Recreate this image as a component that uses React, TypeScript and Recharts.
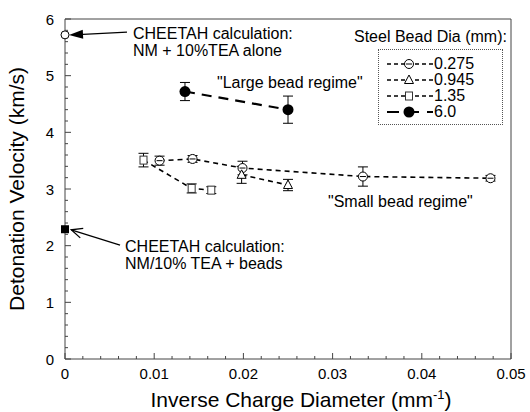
import React from 'react';
import { ComposedChart, Scatter, XAxis, YAxis, ErrorBar, ReferenceLine, ReferenceDot } from 'recharts';

const FONT = '"Liberation Sans", Arial, Helvetica, sans-serif';
const AXIS = '#444';

// ---- data (inverse charge diameter [1/mm], detonation velocity [km/s], error) ----
const bead0275 = [
  { x: 0.0106, y: 3.5, err: 0.08 },
  { x: 0.0143, y: 3.53, err: 0.06 },
  { x: 0.0199, y: 3.37, err: 0.12 },
  { x: 0.0334, y: 3.22, err: 0.17 },
  { x: 0.0477, y: 3.19, err: 0.05 },
];
const bead0945 = [
  { x: 0.0198, y: 3.25, err: 0.15 },
  { x: 0.025, y: 3.07, err: 0.1 },
];
const bead135 = [
  { x: 0.0088, y: 3.51, err: 0.12 },
  { x: 0.0142, y: 3.01, err: 0.08 },
  { x: 0.0164, y: 2.98, err: 0.06 },
];
const bead60 = [
  { x: 0.01345, y: 4.72, err: 0.16 },
  { x: 0.025, y: 4.4, err: 0.24 },
];
const cheetahAlone = [{ x: 0, y: 5.72 }];
const cheetahBeads = [{ x: 0, y: 2.29 }];

const legendLabels = ['0.275', '0.945', '1.35', '6.0'];
const legendTitle = 'Steel Bead Dia (mm):';

const xMajor = [0, 0.01, 0.02, 0.03, 0.04, 0.05];
const yMajor = [0, 1, 2, 3, 4, 5, 6];
const xTicks: number[] = [];
for (let i = 0; i <= 25; i++) xTicks.push(Math.round(i * 2) / 1000);
const yTicks: number[] = [];
for (let i = 0; i <= 30; i++) yTicks.push(Math.round(i * 2) / 10);

const isMajor = (v: number, list: number[]) => list.some((m) => Math.abs(m - v) < 1e-9);
const fmtX = (v: number) => (v === 0 ? '0' : v.toFixed(2));

// ---- markers ----
const CircleBar = (cx: number, cy: number) => (
  <g>
    <circle cx={cx} cy={cy} r={4.5} fill="#fff" stroke="#000" strokeWidth={1} />
    <line x1={cx - 3} x2={cx + 3} y1={cy} y2={cy} stroke="#000" strokeWidth={1} />
  </g>
);
const Tri = (cx: number, cy: number) => (
  <polygon points={`${cx},${cy - 5} ${cx + 4.5},${cy + 3.5} ${cx - 4.5},${cy + 3.5}`} fill="#fff" stroke="#000" strokeWidth={1} />
);
const Sq = (cx: number, cy: number) => (
  <rect x={cx - 3.5} y={cy - 4} width={7} height={8} fill="#fff" stroke="#333" strokeWidth={1} />
);
const Dot = (cx: number, cy: number) => <circle cx={cx} cy={cy} r={5.5} fill="#000" />;

const series = [
  { data: bead0275, marker: CircleBar, dash: '5 4', width: 1.6 },
  { data: bead0945, marker: Tri, dash: '5 4', width: 1.6 },
  { data: bead135, marker: Sq, dash: '5 4', width: 1.6 },
  { data: bead60, marker: Dot, dash: '10 7', width: 2.2 },
];

// ---- ticks ----
const BottomTick = (p: any) => {
  const { x, y, payload } = p;
  const major = isMajor(payload.value, xMajor);
  return (
    <g>
      <line x1={x} x2={x} y1={y} y2={y - (major ? 6 : 3)} stroke={AXIS} />
      {major && (
        <text x={x} y={y + 20} textAnchor="middle" fontSize={15} fontFamily={FONT} fill="#000">
          {fmtX(payload.value)}
        </text>
      )}
    </g>
  );
};
const TopTick = (p: any) => {
  const { x, y, payload } = p;
  const major = isMajor(payload.value, xMajor);
  return <line x1={x} x2={x} y1={y} y2={y + (major ? 6 : 3)} stroke={AXIS} />;
};
const LeftTick = (p: any) => {
  const { x, y, payload } = p;
  const major = isMajor(payload.value, yMajor);
  return (
    <g>
      <line x1={x} x2={x + (major ? 6 : 3)} y1={y} y2={y} stroke={AXIS} />
      {major && (
        <text x={x - 11} y={y + 5.5} textAnchor="end" fontSize={15} fontFamily={FONT} fill="#000">
          {String(payload.value)}
        </text>
      )}
    </g>
  );
};
const RightTick = (p: any) => {
  const { x, y, payload } = p;
  const major = isMajor(payload.value, yMajor);
  return <line x1={x} x2={x - (major ? 6 : 3)} y1={y} y2={y} stroke={AXIS} />;
};

// ---- annotation helpers ----
const textShape = (lines: string[]) => (p: any) => (
  <text x={p.cx} y={p.cy} fontSize={16} fontFamily={FONT} fill="#000">
    {lines.map((l, i) => (
      <tspan key={i} x={p.cx} dy={i === 0 ? '0.36em' : 17.5}>
        {l}
      </tspan>
    ))}
  </text>
);
const arrowShape = (filled: boolean) => (p: any) => {
  const { x1, y1, x2, y2 } = p;
  const a = Math.atan2(y2 - y1, x2 - x1);
  const L = filled ? 14 : 11;
  const W = filled ? 4.5 : 5;
  const bx = x2 - L * Math.cos(a);
  const by = y2 - L * Math.sin(a);
  const px = -Math.sin(a) * W;
  const py = Math.cos(a) * W;
  return (
    <g>
      <line x1={x1} y1={y1} x2={filled ? bx : x2} y2={filled ? by : y2} stroke="#000" strokeWidth={1.3} />
      {filled ? (
        <polygon points={`${x2},${y2} ${bx + px},${by + py} ${bx - px},${by - py}`} fill="#000" />
      ) : (
        <polyline points={`${bx + px},${by + py} ${x2},${y2} ${bx - px},${by - py}`} fill="none" stroke="#000" strokeWidth={1.3} />
      )}
    </g>
  );
};

export default function App() {
  return (
    <div style={{ position: 'absolute', left: 0, top: 0, width: 530, height: 412, background: '#fff', fontFamily: FONT }}>
      <ComposedChart width={530} height={412} margin={{ top: 18, right: 18, bottom: 52, left: 64 }}>
        <XAxis type="number" dataKey="x" domain={[0, 0.05]} ticks={xTicks} interval={0} height={1} tickSize={0} tickMargin={0}
          tickLine={false} axisLine={{ stroke: AXIS }} tick={<BottomTick />} />
        <XAxis xAxisId="top" orientation="top" type="number" domain={[0, 0.05]} ticks={xTicks} interval={0} height={1} tickSize={0}
          tickMargin={0} tickLine={false} axisLine={{ stroke: AXIS }} tick={<TopTick />} />
        <YAxis type="number" dataKey="y" domain={[0, 6]} ticks={yTicks} interval={0} width={1} tickSize={0} tickMargin={0}
          tickLine={false} axisLine={{ stroke: AXIS }} tick={<LeftTick />} />
        <YAxis yAxisId="right" orientation="right" type="number" domain={[0, 6]} ticks={yTicks} interval={0} width={1} tickSize={0}
          tickMargin={0} tickLine={false} axisLine={{ stroke: AXIS }} tick={<RightTick />} />

        {series.map((s, i) => (
          <Scatter key={i} data={s.data} dataKey="y" isAnimationActive={false}
            line={{ stroke: '#000', strokeWidth: s.width, strokeDasharray: s.dash }}
            shape={(p: any) => s.marker(p.cx, p.cy)}>
            <ErrorBar dataKey="err" direction="y" width={5} stroke="#000" strokeWidth={1} isAnimationActive={false} />
          </Scatter>
        ))}
        <Scatter data={cheetahAlone} dataKey="y" isAnimationActive={false}
          shape={(p: any) => <circle cx={p.cx} cy={p.cy} r={4} fill="#fff" stroke="#000" strokeWidth={1} />} />
        <Scatter data={cheetahBeads} dataKey="y" isAnimationActive={false}
          shape={(p: any) => <rect x={p.cx - 4} y={p.cy - 4} width={8} height={8} fill="#000" />} />

        <ReferenceLine segment={[{ x: 0.00695, y: 5.77 }, { x: 0.00045, y: 5.717 }]} ifOverflow="visible" shape={arrowShape(true)} />
        <ReferenceLine segment={[{ x: 0.00617, y: 2.01 }, { x: 0.0007, y: 2.28 }]} ifOverflow="visible" shape={arrowShape(false)} />

        <ReferenceDot x={0.00762} y={5.753} r={0} ifOverflow="visible" shape={textShape(['CHEETAH calculation:', 'NM + 10%TEA alone'])} />
        <ReferenceDot x={0.00673} y={1.994} r={0} ifOverflow="visible" shape={textShape(['CHEETAH calculation:', 'NM/10% TEA + beads'])} />
        <ReferenceDot x={0.01704} y={4.888} r={0} ifOverflow="visible" shape={textShape(['"Large bead regime"'])} />
        <ReferenceDot x={0.02948} y={2.788} r={0} ifOverflow="visible" shape={textShape(['"Small bead regime"'])} />
      </ComposedChart>

      {/* axis titles */}
      <svg width={530} height={412} style={{ position: 'absolute', left: 0, top: 0, pointerEvents: 'none' }}>
        <text x={301} y={407} textAnchor="middle" fontSize={21} fontFamily={FONT} fill="#000">
          Inverse Charge Diameter (mm<tspan fontSize={13} dy={-8}>-1</tspan><tspan dy={8}>)</tspan>
        </text>
        <text x={24} y={189} transform="rotate(-90 24 189)" textAnchor="middle" fontSize={21} fontFamily={FONT} fill="#000">
          Detonation Velocity (km/s)
        </text>
      </svg>

      {/* legend */}
      <div style={{ position: 'absolute', left: 354, top: 27, fontSize: 16, lineHeight: '20px', whiteSpace: 'nowrap' }}>{legendTitle}</div>
      <div style={{ position: 'absolute', left: 378, top: 49, width: 125, height: 76, border: '1px dotted #555', boxSizing: 'border-box' }}>
        {series.map((s, i) => (
          <div key={i} style={{ position: 'absolute', left: 8, top: 6 + i * 16, height: 16, display: 'flex', alignItems: 'center' }}>
            <svg width={46} height={16}>
              <line x1={0} x2={46} y1={8} y2={8} stroke="#000" strokeWidth={i === 3 ? 2.2 : 1.4} strokeDasharray={i === 3 ? '12 8' : '4 3'} />
              {s.marker(22, 8)}
            </svg>
            <span style={{ fontSize: 16, marginLeft: 1, lineHeight: '16px' }}>{legendLabels[i]}</span>
          </div>
        ))}
      </div>
    </div>
  );
}
